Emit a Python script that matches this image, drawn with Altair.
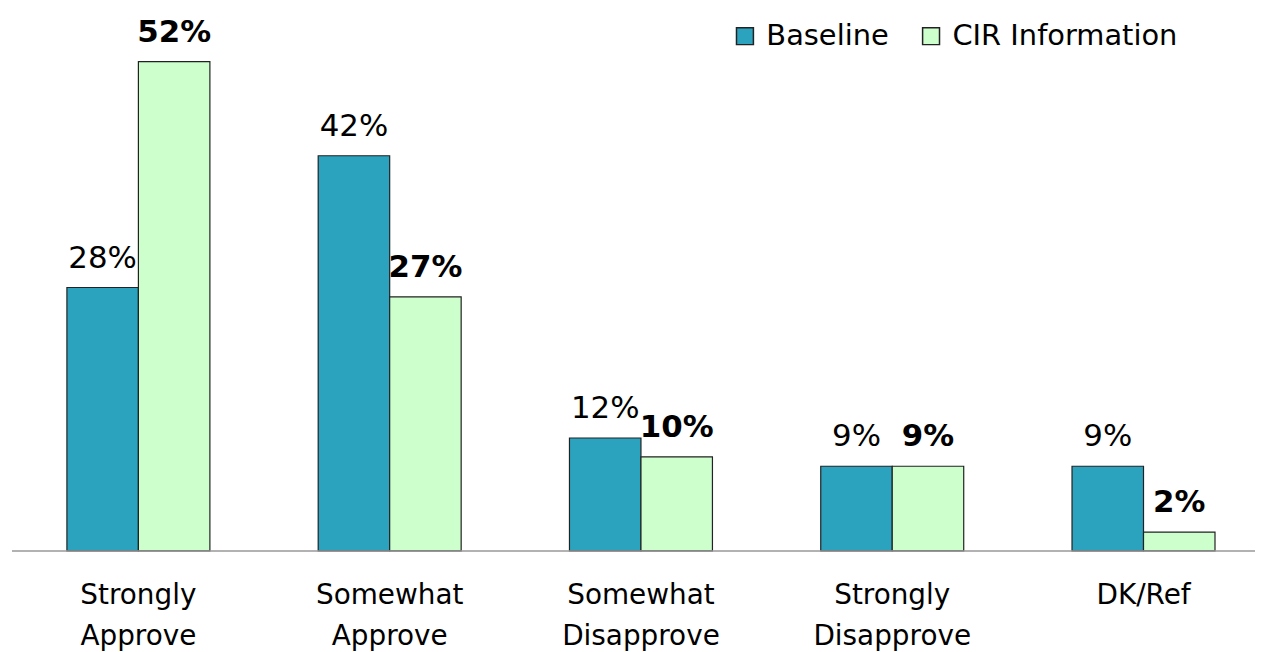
import altair as alt
import pandas as pd

categories = ["Strongly Approve", "Somewhat Approve", "Somewhat Disapprove", "Strongly Disapprove", "DK/Ref"]
baseline = [28, 42, 12, 9, 9]
cir = [52, 27, 10, 9, 2]
series = ["Baseline", "CIR Information"]
colors = ["#2BA3BF", "#CCFFCC"]

rows = []
for c, b, v in zip(categories, baseline, cir):
    rows.append({"cat": c, "series": series[0], "value": b, "label": f"{b}%"})
    rows.append({"cat": c, "series": series[1], "value": v, "label": f"{v}%"})
df = pd.DataFrame(rows)

FONT = "DejaVu Sans"
W, H = 1239, 520
PL = 14

x = alt.X("cat:N", sort=categories, title=None,
          scale=alt.Scale(paddingInner=0.431, paddingOuter=0.179, range=[0, 1244]),
          axis=alt.Axis(labelExpr="split(datum.label, ' ')", labelAngle=0,
                        labelFontSize=28, labelColor="#000", labelFont=FONT,
                        labelLineHeight=41, labelPadding=31, ticks=False,
                        domain=False, labelLimit=300))
y = alt.Y("value:Q", scale=alt.Scale(domain=[0, 55], nice=False), axis=None)
xo = alt.XOffset("series:N", sort=series)

base = alt.Chart(df)

axis_line = alt.Chart(pd.DataFrame({"a": [0]})).mark_rule(color="#999", strokeWidth=1.5).encode(
    x=alt.value(12 - 8 - PL), x2=alt.value(W + 2), y=alt.value(H)
)

bars = base.mark_bar(stroke="#222", strokeWidth=1.2).encode(
    x=x, y=y, xOffset=xo,
    color=alt.Color("series:N", sort=series,
                    scale=alt.Scale(domain=series, range=colors),
                    legend=alt.Legend(title=None, orient="none", direction="horizontal",
                                      legendX=735 - 8 - PL - 1, legendY=-12, symbolType="square",
                                      symbolSize=289, symbolStrokeColor="#222",
                                      symbolStrokeWidth=1.5, labelFontSize=29,
                                      labelFont=FONT, labelColor="#000", labelLimit=400,
                                      columnPadding=28, labelOffset=7))
)

txt_base = base.transform_filter(alt.datum.series == "Baseline").mark_text(
    baseline="alphabetic", dy=-20, fontSize=31, font=FONT, color="#000"
).encode(x=x, y=y, xOffset=xo, text="label:N")

txt_cir = base.transform_filter(alt.datum.series == "CIR Information").mark_text(
    baseline="alphabetic", dy=-20, fontSize=31, font=FONT, fontWeight="bold", color="#000"
).encode(x=x, y=y, xOffset=xo, text="label:N")

chart = alt.layer(bars, axis_line, txt_base, txt_cir).properties(
    width=W, height=H,
    padding={"left": PL, "top": 24, "right": 0, "bottom": 100},
    autosize=alt.AutoSizeParams(type="none"),
    background="white",
).configure_view(stroke=None)

chart.save("out.html", embed_options={"renderer": "svg", "actions": False})
